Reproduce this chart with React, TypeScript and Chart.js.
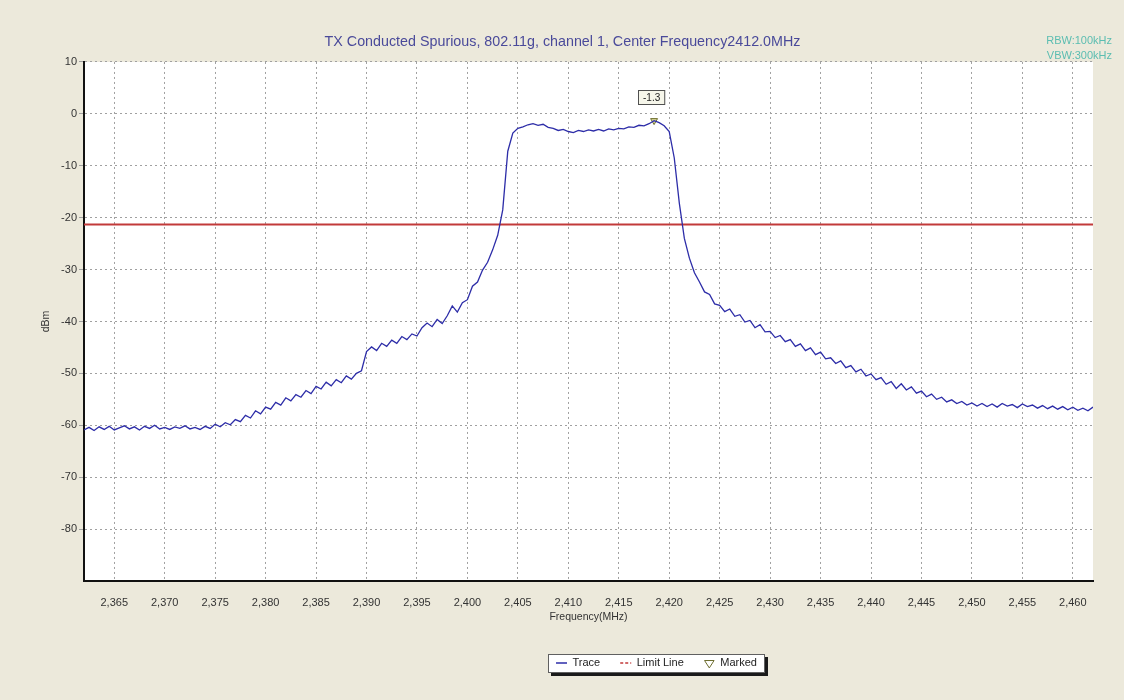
import React, { useEffect, useRef } from 'react';
import { Chart, registerables } from 'chart.js';

Chart.register(...registerables);

// ---- data ----
const sweepStartMHz = 2362;
const sweepStepMHz = 0.5;
const traceDbm = [
  -60.9, -60.4, -61.0, -60.3, -60.8, -60.2, -60.9, -60.5, -60.1, -60.7,
  -60.3, -60.9, -60.2, -60.6, -60.0, -60.7, -60.4, -60.8, -60.3, -60.6,
  -60.1, -60.7, -60.4, -60.8, -60.2, -60.6, -59.8, -60.3, -59.5, -59.9,
  -58.9, -59.3, -58.1, -58.6, -57.2, -57.8, -56.5, -56.9, -55.6, -56.1,
  -54.7, -55.3, -54.1, -54.6, -53.3, -53.9, -52.5, -53.0, -51.7, -52.4,
  -51.2, -51.8, -50.5, -51.1, -50.0, -49.5, -45.8, -44.9, -45.6, -44.2,
  -44.8, -43.6, -44.2, -42.9, -43.5, -42.4, -42.8, -41.2, -40.3, -41.0,
  -39.6, -40.4, -38.9, -37.0, -38.2, -36.4, -35.8, -33.2, -32.4, -30.1,
  -28.6, -26.2, -23.4, -18.5, -7.2, -3.7, -2.8, -2.5, -2.1, -1.9,
  -2.2, -2.0, -2.6, -2.8, -3.2, -3.0, -3.4, -3.6, -3.2, -3.4,
  -3.1, -3.3, -3.0, -3.3, -2.9, -3.1, -2.8, -2.9, -2.5, -2.6,
  -2.2, -2.3, -1.9, -1.3, -1.7, -2.3, -3.4, -8.5, -17.2, -24.0,
  -27.8, -30.6, -32.4, -34.3, -34.8, -36.6, -36.9, -38.1, -37.6, -39.0,
  -38.7, -40.1, -39.8, -41.2, -40.6, -42.0, -41.9, -43.1, -42.7, -43.9,
  -43.5, -44.8, -44.3, -45.6, -45.1, -46.4, -45.9, -47.2, -47.0, -48.1,
  -47.6, -48.9, -48.5, -49.7, -49.2, -50.5, -50.1, -51.2, -50.8, -52.1,
  -51.6, -52.9, -52.0, -53.2, -52.6, -53.8, -53.4, -54.5, -54.0, -55.0,
  -54.6, -55.5, -55.1, -55.8, -55.4, -56.1, -55.7, -56.3, -55.8, -56.4,
  -55.9, -56.5, -55.8, -56.3, -56.0, -56.6, -55.9, -56.4, -56.1, -56.7,
  -56.2, -56.8, -56.3, -56.9, -56.4, -57.0, -56.5, -57.1, -56.7, -57.2,
  -56.5,
];
const limitLineDbm = -21.3;
const markerFreqMHz = 2418.5;
const markerDbm = -1.3;
const xTickValues = [
  2365, 2370, 2375, 2380, 2385, 2390, 2395, 2400, 2405, 2410,
  2415, 2420, 2425, 2430, 2435, 2440, 2445, 2450, 2455, 2460,
];
const yTickValues = [10, 0, -10, -20, -30, -40, -50, -60, -70, -80];
const xMinMHz = 2362;
const xMaxMHz = 2462;
const yMinDbm = -90;
const yMaxDbm = 10;
const titleText = 'TX Conducted Spurious, 802.11g, channel 1, Center Frequency2412.0MHz';
const rbwText = 'RBW:100kHz';
const vbwText = 'VBW:300kHz';
const legendLabels = ['Trace', 'Limit Line', 'Marked'];

// ---- styles ----
const FONT = '"Liberation Sans", Arial, sans-serif';
const BG = '#ECE9DB';
const TRACE_COLOR = '#2d2da8';
const LIMIT_COLOR = '#c23a3a';
const MARK_COLOR = '#6d6d2e';
const GRID_COLOR = '#a0a0a0';

const decorPlugin = {
  id: 'decor',
  afterLayout(chart: any) {
    const lg = chart.legend;
    if (lg) {
      lg.left += 110;
      lg.right += 110;
    }
    const tb = chart.titleBlock;
    if (tb) {
      tb.left += 16;
      tb.right += 16;
    }
  },
  beforeDraw(chart: any) {
    const { ctx, chartArea: a, width, height } = chart;
    ctx.save();
    ctx.fillStyle = BG;
    ctx.fillRect(0, 0, width, height);
    ctx.fillStyle = '#ffffff';
    ctx.fillRect(a.left, a.top, a.right - a.left, a.bottom - a.top);
    const lg = chart.legend;
    if (lg && lg.legendHitBoxes && lg.legendHitBoxes.length) {
      let l = Infinity, r = -Infinity, t = Infinity, b = -Infinity;
      lg.legendHitBoxes.forEach((h: any) => {
        l = Math.min(l, h.left);
        r = Math.max(r, h.left + h.width);
        t = Math.min(t, h.top);
        b = Math.max(b, h.top + h.height);
      });
      l = Math.round(l - 8);
      r = Math.round(r + 8);
      t = Math.round(t - 4);
      b = Math.round(b + 4);
      ctx.fillStyle = '#1a1a1a';
      ctx.fillRect(l + 3, t + 3, r - l, b - t);
      ctx.fillStyle = '#ffffff';
      ctx.fillRect(l, t, r - l, b - t);
      ctx.strokeStyle = '#606060';
      ctx.lineWidth = 1;
      ctx.strokeRect(l + 0.5, t + 0.5, r - l - 1, b - t - 1);
    }
    ctx.restore();
  },
  afterDatasetsDraw(chart: any) {
    const meta = chart.getDatasetMeta(2);
    if (!meta || !meta.data || !meta.data.length) return;
    const pt = meta.data[0];
    const { ctx } = chart;
    ctx.save();
    ctx.font = `10px ${FONT}`;
    const label = String(markerDbm);
    const w = ctx.measureText(label).width + 10;
    const h = 15;
    const cx = pt.x - 2;
    const bottom = pt.y - 16;
    const left = Math.round(cx - w / 2);
    const top = Math.round(bottom - h);
    ctx.fillStyle = '#f6f6ea';
    ctx.fillRect(left, top, w, h);
    ctx.strokeStyle = '#505050';
    ctx.lineWidth = 1;
    ctx.strokeRect(left + 0.5, top + 0.5, w - 1, h - 1);
    ctx.fillStyle = '#222';
    ctx.textAlign = 'center';
    ctx.textBaseline = 'middle';
    ctx.fillText(label, left + w / 2, top + h / 2 + 0.5);
    ctx.restore();
  },
  afterDraw(chart: any) {
    const { ctx } = chart;
    ctx.save();
    ctx.font = `11px ${FONT}`;
    ctx.fillStyle = '#5bbdb1';
    ctx.textAlign = 'right';
    ctx.textBaseline = 'middle';
    ctx.fillText(rbwText, 1112, 41);
    ctx.fillText(vbwText, 1112, 56);
    ctx.restore();
  },
};

export default function App() {
  const ref = useRef<HTMLCanvasElement | null>(null);

  useEffect(() => {
    if (!ref.current) return;
    Chart.defaults.font.family = FONT;
    const tracePoints = traceDbm.map((v, i) => ({ x: sweepStartMHz + i * sweepStepMHz, y: v }));
    const chart = new Chart(ref.current, {
      type: 'line',
      data: {
        datasets: [
          {
            label: legendLabels[0],
            data: tracePoints,
            borderColor: TRACE_COLOR,
            borderWidth: 1.3,
            pointRadius: 0,
            tension: 0,
            fill: false,
          },
          {
            label: legendLabels[1],
            data: [
              { x: xMinMHz, y: limitLineDbm },
              { x: xMaxMHz, y: limitLineDbm },
            ],
            borderColor: LIMIT_COLOR,
            borderWidth: 2,
            pointRadius: 0,
            fill: false,
          },
          {
            label: legendLabels[2],
            data: [{ x: markerFreqMHz, y: markerDbm }],
            showLine: false,
            pointStyle: 'triangle',
            rotation: 180,
            pointRadius: 4,
            borderWidth: 1,
            borderColor: MARK_COLOR,
            backgroundColor: 'rgba(200,200,110,0.7)',
          } as any,
        ],
      },
      plugins: [decorPlugin],
      options: {
        responsive: false,
        animation: false,
        events: [],
        layout: { padding: { left: 0, right: 31, top: 0, bottom: 21.5 } },
        scales: {
          x: {
            type: 'linear',
            min: xMinMHz,
            max: xMaxMHz,
            afterBuildTicks: (scale: any) => {
              scale.ticks = xTickValues.map((v) => ({ value: v }));
            },
            ticks: {
              autoSkip: false,
              maxRotation: 0,
              padding: 0,
              color: '#333',
              font: { size: 11, family: FONT },
              callback: (v: any) => Number(v).toLocaleString('en-US'),
            },
            grid: {
              color: GRID_COLOR,
              lineWidth: 1,
              tickLength: 15,
              tickColor: 'rgba(0,0,0,0)',
            },
            border: { display: true, color: '#111', width: 2, dash: [2, 3] } as any,
            title: {
              display: true,
              text: 'Frequency(MHz)',
              color: '#333',
              font: { size: 10.5, family: FONT },
              padding: { top: 1.5, bottom: 14.2 },
            },
          },
          y: {
            type: 'linear',
            min: yMinDbm,
            max: yMaxDbm,
            afterFit: (scale: any) => {
              scale.width = 84;
            },
            afterBuildTicks: (scale: any) => {
              scale.ticks = yTickValues.map((v) => ({ value: v }));
            },
            ticks: {
              padding: 2,
              color: '#333',
              font: { size: 11, family: FONT },
              callback: (v: any) => String(v),
            },
            grid: {
              color: GRID_COLOR,
              lineWidth: 1,
              tickLength: 5,
            },
            border: { display: true, color: '#111', width: 2, dash: [2, 3] } as any,
            title: {
              display: true,
              text: 'dBm',
              color: '#333',
              font: { size: 10.5, family: FONT },
              padding: { top: 40, bottom: 0 },
            },
          },
        },
        plugins: {
          title: {
            display: true,
            text: titleText,
            color: '#4a4a9a',
            font: { size: 14.3, family: FONT, weight: 'normal' },
            padding: { top: 33.4, bottom: 11.4 },
          },
          legend: {
            display: true,
            position: 'bottom',
            labels: {
              usePointStyle: true,
              pointStyleWidth: 11,
              boxHeight: 7,
              padding: 20,
              color: '#222',
              font: { size: 11, family: FONT },
              generateLabels: () => [
                {
                  text: legendLabels[0],
                  fillStyle: 'rgba(0,0,0,0)',
                  strokeStyle: TRACE_COLOR,
                  lineWidth: 1.5,
                  pointStyle: 'line',
                  hidden: false,
                  datasetIndex: 0,
                  fontColor: '#222',
                },
                {
                  text: legendLabels[1],
                  fillStyle: 'rgba(0,0,0,0)',
                  strokeStyle: LIMIT_COLOR,
                  lineWidth: 1.5,
                  lineDash: [3, 2],
                  pointStyle: 'line',
                  hidden: false,
                  datasetIndex: 1,
                  fontColor: '#222',
                },
                {
                  text: legendLabels[2],
                  fillStyle: 'rgba(0,0,0,0)',
                  strokeStyle: MARK_COLOR,
                  lineWidth: 1,
                  pointStyle: 'triangle',
                  rotation: 180,
                  hidden: false,
                  datasetIndex: 2,
                  fontColor: '#222',
                },
              ],
            },
          },
          tooltip: { enabled: false },
        },
      } as any,
    });
    return () => chart.destroy();
  }, []);

  return (
    <div style={{ position: 'fixed', left: 0, top: 0, width: 1124, height: 700, background: BG }}>
      <canvas ref={ref} width={1124} height={700} style={{ display: 'block', width: 1124, height: 700 }} />
    </div>
  );
}
